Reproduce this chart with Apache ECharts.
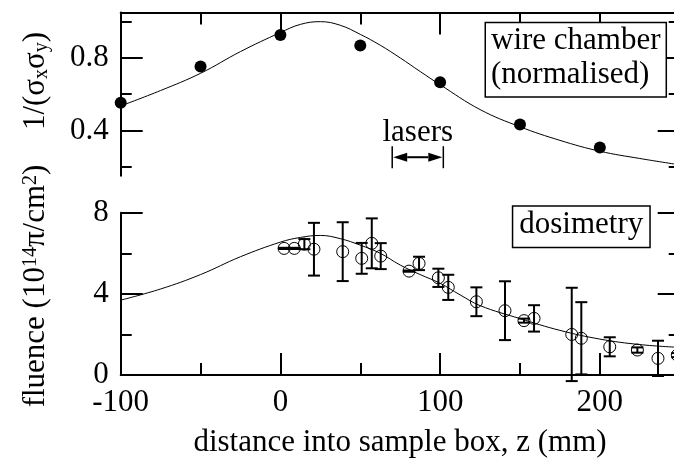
<!DOCTYPE html>
<html><head><meta charset="utf-8">
<script src="https://cdn.jsdelivr.net/npm/echarts@6/dist/echarts.min.js"></script>
<style>html,body{margin:0;padding:0;background:#fff}#c{width:674px;height:466px}</style>
</head><body><div id="c"></div>
<script>
// ---- data ----
const wireZ   = [-100, -50, 0, 50, 100, 150, 200];
const wireVal = [0.553, 0.752, 0.927, 0.868, 0.666, 0.432, 0.305];

const wireFitZ   = [-100, -75, -50, -25, 0, 12.5, 25, 37.5, 50, 62.5, 75, 87.5, 100, 125, 150, 175, 200, 225, 250];
const wireFitVal = [0.535, 0.62, 0.715, 0.835, 0.94, 0.985, 1.0, 0.98, 0.93, 0.87, 0.80, 0.725, 0.652, 0.515, 0.42, 0.345, 0.285, 0.245, 0.21];

const doseZ   = [2.3, 8.7, 15, 21, 39, 50.9, 57.2, 62.8, 80.5, 86.8, 98.9, 105.1, 122.7, 140.6, 152.5, 158.8, 182.4, 188.4, 206.2, 223.5, 236.4, 248.5];
const doseVal = [6.24, 6.24, 6.45, 6.2, 6.08, 5.75, 6.49, 5.86, 5.12, 5.5, 4.79, 4.32, 3.61, 3.17, 2.68, 2.79, 2.0, 1.81, 1.39, 1.23, 0.82, 0.98];
const doseErr = [0.03, 0.03, 0.25, 1.3, 1.45, 0.76, 1.23, 0.64, 0.03, 0.33, 0.45, 0.62, 0.71, 1.45, 0.1, 0.65, 2.3, 1.78, 0.47, 0.13, 0.87, 0.1];

const doseFitZ   = [-100, -75, -50, -25, 0, 12.5, 25, 37.5, 50, 62.5, 75, 87.5, 100, 112.5, 125, 150, 175, 200, 225, 250];
const doseFitVal = [3.69, 4.24, 4.95, 5.83, 6.55, 6.78, 6.88, 6.72, 6.4, 6.0, 5.42, 4.95, 4.52, 3.95, 3.42, 2.78, 2.2, 1.77, 1.5, 1.36];

const laserRange = [70, 102];   // mm
const laserLevel = [0.252];     // y position of the arrow on the top panel

const xMajorTicks = [-100, 0, 100, 200];
const xMinorTicks = [-50, 50, 150];
const xTickLabels = [-100, 0, 100, 200];
const wireMajorTicks = [0.4, 0.8];
const wireMinorTicks = [0.2, 0.6, 1.0];
const doseMajorTicks = [0, 4, 8];
const doseMinorTicks = [2, 6];

// ---- chart ----
const FONT = 'Liberation Serif';
const chart = echarts.init(document.getElementById('c'), null, {renderer: 'canvas'});

function mkAxis(gridIndex, position, min, max, tickVals, tickLen, showLine, labelVals, fmt) {
  return {
    type: 'value', gridIndex, position, min, max,
    axisLine: {show: showLine, onZero: false, lineStyle: {color: '#000', width: 2}},
    axisTick: {show: true, inside: true, length: tickLen, customValues: tickVals, lineStyle: {color: '#000', width: 2}},
    axisLabel: labelVals ? {show: true, customValues: labelVals, formatter: fmt, color: '#000',
                            fontFamily: FONT, fontSize: 31, margin: 12}
                         : {show: false},
    splitLine: {show: false}, minorTick: {show: false}, minorSplitLine: {show: false},
    splitArea: {show: false}
  };
}

function laserItem(params, api) {
  const a = api.coord([api.value(0), api.value(2)]);
  const b = api.coord([api.value(1), api.value(2)]);
  const y = a[1], L = 15, H = 4.5, bar = 11;
  const st = {stroke: '#000', lineWidth: 2};
  return {type: 'group', children: [
    {type: 'line', shape: {x1: a[0] + L, y1: y, x2: b[0] - L, y2: y}, style: st},
    {type: 'polygon', shape: {points: [[a[0] + 1, y], [a[0] + L, y - H], [a[0] + L, y + H]]}, style: {fill: '#000'}},
    {type: 'polygon', shape: {points: [[b[0] - 1, y], [b[0] - L, y - H], [b[0] - L, y + H]]}, style: {fill: '#000'}},
    {type: 'line', shape: {x1: a[0], y1: y - bar, x2: a[0], y2: y + bar}, style: {stroke: '#000', lineWidth: 1.5}},
    {type: 'line', shape: {x1: b[0], y1: y - bar, x2: b[0], y2: y + bar}, style: {stroke: '#000', lineWidth: 1.5}},
    {type: 'text', style: {text: 'lasers', x: (a[0] + b[0]) / 2, y: y - 24, fontSize: 31, fontFamily: FONT, fill: '#000',
      align: 'center', textAlign: 'center', verticalAlign: 'middle', textVerticalAlign: 'middle'}}
  ]};
}

function errItem(params, api) {
  const z = api.value(0), v = api.value(1), e = api.value(2);
  const hi = api.coord([z, v + e]), lo = api.coord([z, v - e]);
  const w = 6, st = {stroke: '#000', lineWidth: 2};
  return {type: 'group', children: [
    {type: 'line', shape: {x1: hi[0], y1: hi[1], x2: lo[0], y2: lo[1]}, style: st},
    {type: 'line', shape: {x1: hi[0] - w, y1: hi[1], x2: hi[0] + w, y2: hi[1]}, style: st},
    {type: 'line', shape: {x1: lo[0] - w, y1: lo[1], x2: lo[0] + w, y2: lo[1]}, style: st}
  ]};
}

const option = {
  animation: false,
  backgroundColor: '#fff',
  textStyle: {fontFamily: FONT, color: '#000'},
  grid: [
    {left: 120.7, top: 12.6, width: 559, height: 163.1, outerBoundsMode: 'none', containLabel: false},
    {left: 120.7, top: 212.7, width: 559, height: 162.3, outerBoundsMode: 'none', containLabel: false}
  ],
  xAxis: [
    mkAxis(0, 'top', -100, 250, xMajorTicks, 22, true, null),
    mkAxis(0, 'top', -100, 250, xMinorTicks, 12, false, null),
    mkAxis(1, 'bottom', -100, 250, xMajorTicks, 22, true, xTickLabels, v => String(v)),
    mkAxis(1, 'bottom', -100, 250, xMinorTicks, 12, false, null)
  ],
  yAxis: [
    mkAxis(0, 'left', 0.15, 1.05, wireMajorTicks, 22, true, wireMajorTicks, v => v.toFixed(1)),
    mkAxis(0, 'left', 0.15, 1.05, wireMinorTicks, 11, false, null),
    mkAxis(0, 'right', 0.15, 1.05, wireMajorTicks, 22, true, null),
    mkAxis(0, 'right', 0.15, 1.05, wireMinorTicks, 11, false, null),
    mkAxis(1, 'left', 0, 8, doseMajorTicks, 22, true, doseMajorTicks, v => String(v)),
    mkAxis(1, 'left', 0, 8, doseMinorTicks, 11, false, null),
    mkAxis(1, 'right', 0, 8, doseMajorTicks, 22, true, null),
    mkAxis(1, 'right', 0, 8, doseMinorTicks, 11, false, null)
  ],
  series: [
    {type: 'line', xAxisIndex: 0, yAxisIndex: 0, data: wireFitZ.map((z, i) => [z, wireFitVal[i]]),
     smooth: 0.4, symbol: 'none', showSymbol: false, lineStyle: {color: '#000', width: 1}, silent: true},
    {type: 'scatter', xAxisIndex: 0, yAxisIndex: 0, data: wireZ.map((z, i) => [z, wireVal[i]]),
     symbol: 'circle', symbolSize: 12, itemStyle: {color: '#000', opacity: 1}, z: 3},
    {type: 'custom', xAxisIndex: 0, yAxisIndex: 0, data: [[laserRange[0], laserRange[1], laserLevel[0]]],
     encode: {x: [0, 1], y: 2}, renderItem: laserItem, silent: true},
    {type: 'line', xAxisIndex: 2, yAxisIndex: 4, data: doseFitZ.map((z, i) => [z, doseFitVal[i]]),
     smooth: 0.4, symbol: 'none', showSymbol: false, lineStyle: {color: '#000', width: 1}, silent: true},
    {type: 'custom', xAxisIndex: 2, yAxisIndex: 4, data: doseZ.map((z, i) => [z, doseVal[i], doseErr[i]]),
     encode: {x: 0, y: 1}, renderItem: errItem, silent: true, z: 3},
    {type: 'scatter', xAxisIndex: 2, yAxisIndex: 4, data: doseZ.map((z, i) => [z, doseVal[i]]),
     symbol: 'circle', symbolSize: 12, itemStyle: {color: 'rgba(0,0,0,0)', borderColor: '#000', borderWidth: 1, opacity: 1}, z: 4}
  ],
  graphic: [
    {type: 'text', x: 486, y: 23.3, z: 100, style: {text: 'wire chamber\n(normalised)', fontSize: 31, fontFamily: FONT,
      fill: '#000', lineHeight: 34, padding: [1, 5, 4, 5], backgroundColor: '#fff', borderColor: '#000', borderWidth: 1.5,
      align: 'left', textAlign: 'left', verticalAlign: 'top', textVerticalAlign: 'top'}},
    {type: 'text', x: 513.3, y: 206.7, z: 100, style: {text: 'dosimetry', fontSize: 31, fontFamily: FONT,
      fill: '#000', lineHeight: 31, padding: [3, 6, 6, 6], backgroundColor: '#fff', borderColor: '#000', borderWidth: 1.5,
      align: 'left', textAlign: 'left', verticalAlign: 'top', textVerticalAlign: 'top'}},
    {type: 'text', x: 400, y: 443, z: 100, style: {text: 'distance into sample box, z (mm)', fontSize: 31, fontFamily: FONT,
      fill: '#000', align: 'center', textAlign: 'center', verticalAlign: 'middle', textVerticalAlign: 'middle'}},
    {type: 'text', x: 36, y: 81, rotation: Math.PI / 2, z: 100, style: {text: '1/(σ{s|x}σ{s|y})', fontSize: 31, fontFamily: FONT,
      fill: '#000', align: 'center', textAlign: 'center', verticalAlign: 'middle', textVerticalAlign: 'middle',
      rich: {s: {fontSize: 20, fontFamily: FONT, fill: '#000', lineHeight: 10, verticalAlign: 'bottom'}}}},
    {type: 'text', x: 36, y: 286, rotation: Math.PI / 2, z: 100, style: {text: 'fluence (10{p|14}π/cm{p|2})', fontSize: 31, fontFamily: FONT,
      fill: '#000', align: 'center', textAlign: 'center', verticalAlign: 'middle', textVerticalAlign: 'middle',
      rich: {p: {fontSize: 20, fontFamily: FONT, fill: '#000', lineHeight: 10, verticalAlign: 'top'}}}}
  ]
};
chart.setOption(option);
</script></body></html>
